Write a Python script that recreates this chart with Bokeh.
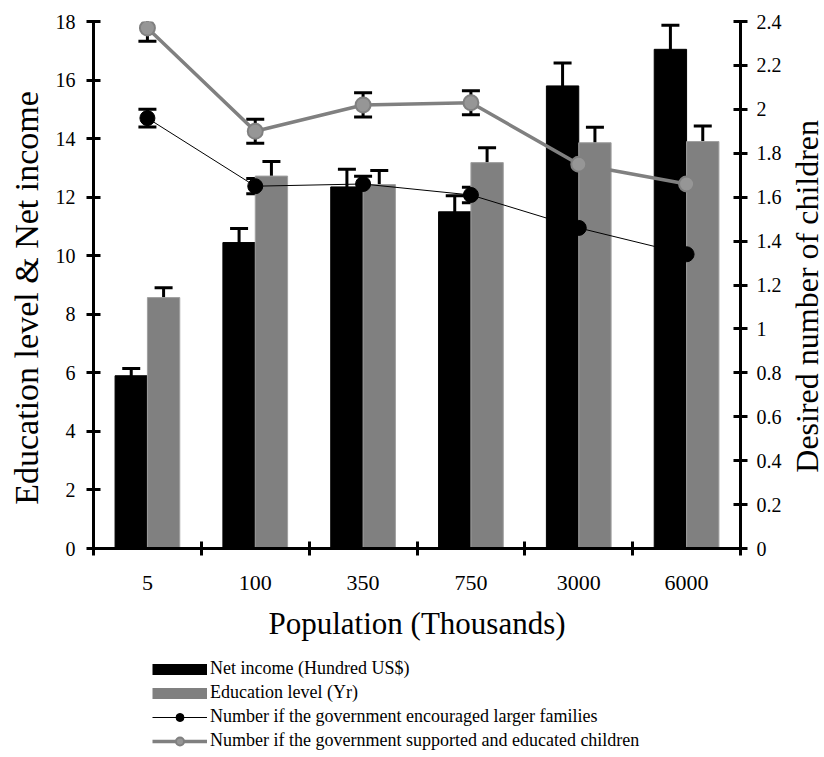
import math
import numpy as np
from bokeh.plotting import figure
from bokeh.layouts import row, column
from bokeh.models import (Range1d, LinearAxis, FixedTicker, ColumnDataSource, Whisker, TeeHead,
                          Legend, LegendItem, CustomJSTickFormatter, Label)
from bokeh.embed import file_html
from bokeh.resources import INLINE

categories = ["5", "100", "350", "750", "3000", "6000"]
net_income = [5.9, 10.45, 12.35, 11.5, 15.8, 17.05]
net_income_err = [0.25, 0.48, 0.6, 0.55, 0.78, 0.82]
education = [8.57, 12.72, 12.43, 13.18, 13.86, 13.9]
education_err = [0.34, 0.5, 0.48, 0.51, 0.53, 0.53]
encouraged = [1.96, 1.65, 1.66, 1.61, 1.46, 1.34]
encouraged_err = [0.04, 0.035, 0.035, 0.035, 0.03, 0.03]
supported = [2.37, 1.90, 2.02, 2.03, 1.75, 1.66]
supported_err = [0.06, 0.055, 0.055, 0.055, 0.05, 0.045]
left_ticks = [0, 2, 4, 6, 8, 10, 12, 14, 16, 18]
right_ticks = [0, 0.2, 0.4, 0.6, 0.8, 1.0, 1.2, 1.4, 1.6, 1.8, 2.0, 2.2, 2.4]
legend_labels = ["Net income (Hundred US$)", "Education level (Yr)",
                 "Number if the government encouraged larger families",
                 "Number if the government supported and educated children"]

FONT = "Liberation Serif"
GREY = "#808080"
W = 824
H_MAIN = 650
H_LEG = 757 - H_MAIN
SIDE_L = 44
SIDE_R = 40

idx = np.arange(len(categories))
centers = idx + 0.5

src = ColumnDataSource(dict(
    xc=centers, xb=centers - 0.15, xg=centers + 0.15,
    inc=net_income, inc_lo=np.array(net_income) - np.array(net_income_err), inc_hi=np.array(net_income) + np.array(net_income_err),
    edu=education, edu_lo=np.array(education) - np.array(education_err), edu_hi=np.array(education) + np.array(education_err),
    enc=encouraged, enc_lo=np.array(encouraged) - np.array(encouraged_err), enc_hi=np.array(encouraged) + np.array(encouraged_err),
    sup=supported, sup_lo=np.array(supported) - np.array(supported_err), sup_hi=np.array(supported) + np.array(supported_err),
))

p = figure(width=W - SIDE_L - SIDE_R, height=H_MAIN, output_backend="svg", toolbar_location=None,
           x_range=Range1d(0, len(categories)), y_range=Range1d(0, 18),
           min_border_left=93 - SIDE_L, min_border_right=83 - SIDE_R, min_border_top=21,
           min_border_bottom=H_MAIN - 548,
           x_axis_location=None, y_axis_location=None)
p.extra_y_ranges = {"right": Range1d(0, 2.4)}
p.grid.visible = False
p.outline_line_color = None
p.background_fill_color = "white"
p.border_fill_color = "white"

# axes
xax = LinearAxis(ticker=FixedTicker(ticks=list(centers), minor_ticks=list(np.arange(len(categories) + 1))),
                 major_label_overrides={float(c): lab for c, lab in zip(centers, categories)},
                 axis_label="Population (Thousands)")
xax.major_tick_in = 0
xax.major_tick_out = 0
xax.minor_tick_in = 7
xax.minor_tick_out = 7
xax.minor_tick_line_width = 3
xax.minor_tick_line_color = "black"
xax.major_label_standoff = 20
xax.axis_label_standoff = 13
xax.major_label_text_font_size = "22px"
xax.axis_label_text_font_size = "31px"

lax = LinearAxis(ticker=FixedTicker(ticks=left_ticks))
lax.major_tick_in = 7
lax.major_tick_out = 7
lax.major_label_standoff = 11
lax.minor_tick_line_color = None
lax.major_label_text_font_size = "20px"

rax = LinearAxis(y_range_name="right", ticker=FixedTicker(ticks=right_ticks),
                 formatter=CustomJSTickFormatter(code="return String(Number(tick.toFixed(1)));"))
rax.major_tick_in = 7
rax.major_tick_out = 7
rax.major_label_standoff = 9
rax.minor_tick_line_color = None
rax.major_label_text_font_size = "20px"

for ax in (xax, lax, rax):
    ax.axis_line_width = 3
    ax.axis_line_color = "black"
    ax.major_tick_line_width = 3
    ax.major_tick_line_color = "black"
    ax.major_label_text_font = FONT
    ax.major_label_text_color = "black"
    ax.axis_label_text_font = FONT
    ax.axis_label_text_font_style = "normal"
    ax.axis_label_text_color = "black"

p.add_layout(xax, "below")
p.add_layout(lax, "left")
p.add_layout(rax, "right")

# bars
p.vbar(x="xb", top="inc", width=0.3, source=src, fill_color="black", line_color="black", line_width=1)
p.vbar(x="xg", top="edu", width=0.3, source=src, fill_color=GREY, line_color="#a0a0a0", line_width=1)

head = dict(size=18, line_width=3, line_color="black")
p.add_layout(Whisker(base="xb", lower="inc_lo", upper="inc_hi", source=src, line_width=3, line_color="black",
                     upper_head=TeeHead(**head), lower_head=TeeHead(**head)))
p.add_layout(Whisker(base="xg", lower="edu_lo", upper="edu_hi", source=src, line_width=3, line_color="black",
                     upper_head=TeeHead(**head), lower_head=TeeHead(**head)))

# lines
p.line(x="xc", y="enc", source=src, y_range_name="right", line_color="black", line_width=1)
p.scatter(x="xc", y="enc", source=src, y_range_name="right", size=15, fill_color="black", line_color="black")
p.line(x="xc", y="sup", source=src, y_range_name="right", line_color=GREY, line_width=3.5)
p.scatter(x="xc", y="sup", source=src, y_range_name="right", size=15, fill_color="#969696", line_color=GREY, line_width=2)

p.add_layout(Whisker(base="xc", lower="enc_lo", upper="enc_hi", source=src, y_range_name="right", line_width=3,
                     line_color="black", upper_head=TeeHead(**head), lower_head=TeeHead(**head)))
p.add_layout(Whisker(base="xc", lower="sup_lo", upper="sup_hi", source=src, y_range_name="right", line_width=3,
                     line_color="black", upper_head=TeeHead(**head), lower_head=TeeHead(**head)))


def bare(width, height):
    f = figure(width=width, height=height, output_backend="svg", toolbar_location=None,
               x_range=Range1d(0, width), y_range=Range1d(0, height), min_border=0,
               x_axis_location=None, y_axis_location=None)
    f.grid.visible = False
    f.outline_line_color = None
    return f


def side_title(text, width, cx, cy, size):
    f = bare(width, H_MAIN)
    f.add_layout(Label(x=cx, y=H_MAIN - cy, text=text, angle=math.pi / 2, text_align="center",
                       text_baseline="middle", text_font=FONT, text_font_size=size, text_color="black"))
    return f


# cy includes a measured offset of the rotated label anchor
left_title = side_title("Education level & Net income", SIDE_L, 26, 341, "34px")
right_title = side_title("Desired number of children", SIDE_R, 22, 339, "32px")

# legend panel (proxy renderers carry the series styles; one off-screen point each)
lf = bare(W, H_LEG)
proxy = ColumnDataSource(dict(x=[-1000], y=[-1000]))
sw_b = lf.line(x="x", y="y", source=proxy, line_color="black", line_width=11)
sw_g = lf.line(x="x", y="y", source=proxy, line_color=GREY, line_width=11)
pl_b = lf.line(x="x", y="y", source=proxy, line_color="black", line_width=1)
pm_b = lf.scatter(x="x", y="y", source=proxy, size=14, fill_color="black", line_color="black")
pl_g = lf.line(x="x", y="y", source=proxy, line_color=GREY, line_width=3.5)
pm_g = lf.scatter(x="x", y="y", source=proxy, size=14, fill_color="#969696", line_color=GREY, line_width=2)

legend = Legend(items=[
    LegendItem(label=legend_labels[0], renderers=[sw_b]),
    LegendItem(label=legend_labels[1], renderers=[sw_g]),
    LegendItem(label=legend_labels[2], renderers=[pl_b, pm_b]),
    LegendItem(label=legend_labels[3], renderers=[pl_g, pm_g]),
], location=(152, H_LEG - 12 - 89), orientation="vertical", glyph_width=55, glyph_height=20, label_height=20,
    label_standoff=3, spacing=3, padding=0, margin=0,
    label_text_font=FONT, label_text_font_size="18px", label_text_color="black",
    border_line_color=None, background_fill_alpha=0)
lf.add_layout(legend, "center")

layout = column(row(left_title, p, right_title, spacing=0), lf, spacing=0)
open("out.html", "w").write(file_html(layout, INLINE))
